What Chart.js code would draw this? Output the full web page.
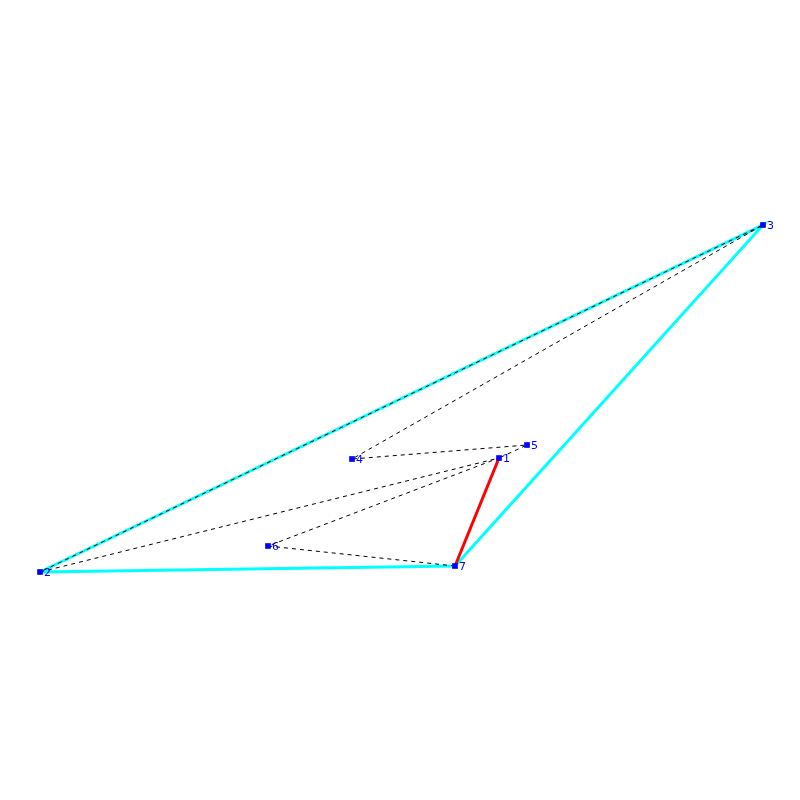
<!DOCTYPE html>
<html>
<head>
<meta charset="utf-8">
<script src="https://cdn.jsdelivr.net/npm/chart.js@4"></script>
<style>
  html, body { margin: 0; padding: 0; background: #fff; }
  #wrap { width: 800px; height: 800px; }
</style>
</head>
<body>
<div id="wrap"><canvas id="c"></canvas></div>
<script>
/* ── Vertex data ── */
const labels = ['1', '2', '3', '4', '5', '6', '7'];
const xs     = [499, 40, 763, 352, 527, 268, 455];
const ys     = [342, 228, 575, 341, 355, 254, 234];

/* ── Edge lists (vertex indices) ── */
const hull   = [1, 2, 6, 1];
const dashed = [6, 5, 0, 1, 2, 3, 4, 0];
const red    = [0, 6];

const pt = i => ({ x: xs[i], y: ys[i] });

const pointLabels = {
  id: 'pointLabels',
  afterDatasetsDraw(chart) {
    const { ctx, scales } = chart;
    ctx.save();
    ctx.fillStyle = '#0000ff';
    ctx.font = '11px "DejaVu Sans", sans-serif';
    ctx.textBaseline = 'middle';
    labels.forEach((l, i) => {
      ctx.fillText(l, scales.x.getPixelForValue(xs[i]) + 4, scales.y.getPixelForValue(ys[i]) + 1);
    });
    ctx.restore();
  },
};

new Chart(document.getElementById('c'), {
  type: 'scatter',
  data: {
    datasets: [
      {
        data: labels.map((_, i) => pt(i)),
        pointStyle: 'rect', pointRadius: 4, backgroundColor: '#0000ff', borderWidth: 0,
        showLine: false,
      },
      {
        data: red.map(pt), showLine: true, borderColor: '#ff0000', borderWidth: 3, pointRadius: 0,
      },
      {
        data: dashed.map(pt), showLine: true, borderColor: '#000', borderWidth: 1,
        borderDash: [4, 4], pointRadius: 0,
      },
      {
        data: hull.map(pt), showLine: true, borderColor: '#00ffff', borderWidth: 3, pointRadius: 0,
      },
    ],
  },
  options: {
    responsive: true, maintainAspectRatio: false, animation: false,
    layout: { padding: 0 },
    plugins: { legend: { display: false }, tooltip: { enabled: false } },
    scales: {
      x: { type: 'linear', min: 4, max: 796, display: false },
      y: { type: 'linear', min: 4, max: 796, display: false },
    },
  },
  plugins: [pointLabels],
});
</script>
</body>
</html>
